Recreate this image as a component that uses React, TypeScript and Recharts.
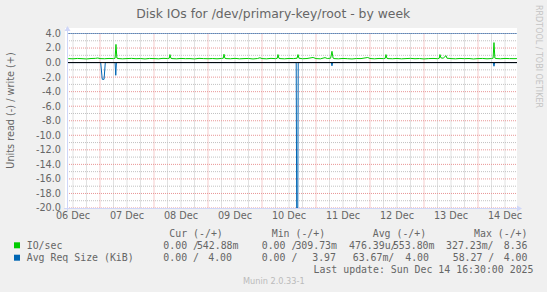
import React from 'react';
import { LineChart, Line, XAxis, YAxis, CartesianGrid, ReferenceLine } from 'recharts';

// time is in hours counted from 06 Dec 00:00
const timeDomain: [number, number] = [9.33, 209.33];
const dayLabelHours = [12, 36, 60, 84, 108, 132, 156, 180, 204];
const dayLabels = ['06 Dec', '07 Dec', '08 Dec', '09 Dec', '10 Dec', '11 Dec', '12 Dec', '13 Dec', '14 Dec'];
const midnightHours = [24, 48, 72, 96, 120, 144, 168, 192];
const sixHourHours = [
  12, 18, 30, 36, 42, 54, 60, 66, 78, 84, 90, 102, 108, 114, 126, 132, 138, 150, 156, 162, 174, 180, 186, 198, 204,
];
const yTicks = [4, 2, 0, -2, -4, -6, -8, -10, -12, -14, -16, -18, -20];
const yMinor = [3, 1, -1, -3, -5, -7, -9, -11, -13, -15, -17, -19];

// IO/sec, write (+)
const ioWrite: [number, number][] = [
  [9.4, 0.56], [10, 0.55], [12, 0.52], [14, 0.57], [16, 0.54], [18, 0.5], [20, 0.56], [22, 0.58], [23, 0.63],
  [24, 0.55], [26, 0.53], [28, 0.57], [30, 0.55], [30.7, 0.6], [31.1, 2.5], [31.5, 0.62], [32, 0.56], [34, 0.52],
  [36, 0.55], [38, 0.58], [40, 0.53], [42, 0.56], [44, 0.5], [46, 0.57], [48, 0.55], [50, 0.52], [52, 0.58],
  [54, 0.56], [54.8, 0.6], [55.1, 1.1], [55.5, 0.6], [56, 0.55], [58, 0.52], [60, 0.57], [62, 0.54], [64, 0.55],
  [66, 0.5], [68, 0.58], [70, 0.55], [72, 0.53], [74, 0.56], [76, 0.52], [78, 0.57], [78.8, 0.6], [79.1, 1.15],
  [79.5, 0.6], [80, 0.55], [82, 0.53], [84, 0.58], [86, 0.52], [88, 0.55], [90, 0.57], [92, 0.5], [94, 0.56],
  [95.1, 0.66], [96, 0.55], [98, 0.52], [100, 0.58], [102, 0.54], [102.8, 0.6], [103.1, 1.1], [103.5, 0.6],
  [104, 0.55], [106, 0.52], [108, 0.57], [110, 0.55], [111.6, 0.6], [112, 1.1], [112.4, 0.6], [114, 0.53],
  [116, 0.56], [118.7, 0.7], [120, 0.55], [122, 0.52], [124, 0.68], [125, 0.56], [126.5, 0.6], [127.1, 1.55],
  [127.6, 0.62], [128, 0.55], [130, 0.52], [132, 0.57], [134, 0.54], [136, 0.5], [138, 0.56], [140, 0.55],
  [143, 0.7], [144, 0.56], [146, 0.52], [148, 0.57], [150, 0.55], [150.8, 0.6], [151.1, 1.1], [151.5, 0.6],
  [152, 0.55], [154, 0.53], [156, 0.57], [158, 0.52], [160, 0.55], [162, 0.58], [164, 0.53], [166, 0.56],
  [168, 0.5], [170, 0.55], [172, 0.57], [174, 0.54], [174.8, 0.6], [175.1, 1.1], [175.5, 0.65], [176.5, 0.6],
  [177.8, 0.95], [178.2, 0.6], [180, 0.55], [182, 0.52], [184, 0.57], [186, 0.54], [188, 0.56], [190, 0.5],
  [192, 0.55], [194, 0.57], [196, 0.52], [198, 0.56], [198.7, 0.6], [199.1, 2.75], [199.5, 0.62], [200, 0.56],
  [202, 0.53], [204, 0.57], [206, 0.55], [208, 0.54], [209.3, 0.55],
];

// Avg Req Size (KiB), read (-)
const reqRead: [number, number][] = [
  [9.33, 0], [24.3, 0], [25.0, -2.3], [25.8, -2.3], [26.35, 0], [30.7, 0], [31.0, -1.75], [31.3, 0],
  [111.2, 0], [111.4, -20], [111.9, -20], [112.1, 0], [126.8, 0], [127.1, -0.45], [127.4, 0],
  [198.8, 0], [199.1, -0.5], [199.4, 0], [209.33, 0],
];

// Avg Req Size (KiB), write (+)
const reqWrite: [number, number][] = [
  [9.33, 4], [60, 4], [110, 4], [160, 4], [209.33, 4],
];

const legendHeaders = ['Cur (-/+)', 'Min (-/+)', 'Avg (-/+)', 'Max (-/+)'];
const ioSecStats = [['0.00 /', '542.88m'], ['0.00 /', '309.73m'], ['476.39u/', '553.80m'], ['327.23m/', '8.36']];
const reqSizeStats = [['0.00 /', '4.00'], ['0.00 /', '3.97'], ['63.67m/', '4.00'], ['58.27 /', '4.00']];

const toRows = (pts: [number, number][]) => pts.map(([h, v]) => ({ h, v }));

const FONT = '#666666';
const AXIS = '#CFD6F8';
const sans = '"DejaVu Sans", sans-serif';
const mono = '"DejaVu Sans Mono", monospace';

const headerX = [169.3, 271.7, 372.7, 474];
const ioLeftX = [163.3, 261.7, 349, 446];
const ioRightX = [238.5, 337, 434.5, 527.5];
const reqLeftX = [163.3, 261.7, 352.7, 452.7];
const reqRightX = [232, 336, 429, 527.5];

const App: React.FC = () => {
  const monoText = { fontFamily: mono, fontSize: 9.9, fill: FONT, whiteSpace: 'pre' as const };
  return (
    <div style={{ position: 'fixed', left: 0, top: 0, width: 547, height: 292, background: '#f0f0f0', overflow: 'hidden' }}>
      <div style={{ position: 'absolute', left: 65, top: 28, width: 452, height: 180, background: '#ffffff' }} />
      <div style={{ position: 'absolute', left: 0, top: 0 }}>
        <LineChart width={547} height={292} margin={{ top: 33.5, right: 30, bottom: 54, left: 7 }}>
          <CartesianGrid
            stroke="#c2c2c2"
            strokeDasharray="1 1"
            horizontalValues={yMinor}
            verticalValues={sixHourHours}
          />
          <CartesianGrid
            stroke="#e99696"
            strokeDasharray="1 1"
            horizontalValues={yTicks}
            verticalValues={midnightHours}
          />
          <XAxis
            type="number"
            dataKey="h"
            domain={timeDomain}
            ticks={dayLabelHours}
            interval={0}
            allowDataOverflow
            tickFormatter={(h: number) => dayLabels[dayLabelHours.indexOf(h)]}
            axisLine={false}
            tickLine={false}
            tickSize={0}
            tickMargin={4}
            height={30}
            tick={{ fill: FONT, fontSize: 9.7, fontFamily: sans }}
          />
          <YAxis
            type="number"
            domain={[-20, 4]}
            ticks={yTicks}
            interval={0}
            allowDataOverflow
            tickFormatter={(v: number) => v.toFixed(1)}
            axisLine={false}
            tickLine={false}
            tickSize={0}
            tickMargin={6}
            width={60}
            tick={{ fill: FONT, fontSize: 9.7, fontFamily: sans }}
          />
          <Line data={toRows(ioWrite)} dataKey="v" type="linear" stroke="#00cc00" strokeWidth={1} dot={false} activeDot={false} isAnimationActive={false} />
          <Line data={toRows(reqRead)} dataKey="v" type="linear" stroke="#0066b3" strokeWidth={1} dot={false} activeDot={false} isAnimationActive={false} />
          <Line data={toRows(reqWrite)} dataKey="v" type="linear" stroke="#0066b3" strokeWidth={1} dot={false} activeDot={false} isAnimationActive={false} />
          <ReferenceLine y={0} stroke="#000000" strokeWidth={1} />
        </LineChart>
      </div>
      <svg width={547} height={292} style={{ position: 'absolute', left: 0, top: 0, pointerEvents: 'none' }}>
        {/* axes with arrows */}
        <line x1={67.5} y1={211} x2={67.5} y2={29} stroke={AXIS} />
        <polygon points="64.5,31 70.5,31 67.5,26" fill={AXIS} />
        <line x1={64} y1={208.5} x2={518} y2={208.5} stroke={AXIS} />
        <polygon points="517,205.5 517,211.5 522,208.5" fill={AXIS} />

        <text x={273.3} y={18.3} textAnchor="middle" fontFamily={sans} fontSize={12.4} fill={FONT}>
          Disk IOs for /dev/primary-key/root - by week
        </text>
        <text transform="translate(13.7,110.5) rotate(-90)" textAnchor="middle" fontFamily={sans} fontSize={9.7} fill={FONT}>
          Units read (-) / write (+)
        </text>
        <text transform="translate(535.5,56.5) rotate(90)" textAnchor="middle" fontFamily={sans} fontSize={8} fill="#c4c4c4">
          RRDTOOL / TOBI OETIKER
        </text>

        {legendHeaders.map((t, i) => (
          <text key={t} x={headerX[i]} y={236.8} style={monoText}>{t}</text>
        ))}
        <rect x={14} y={242.3} width={6} height={6} fill="#00cc00" />
        <text x={26.7} y={249} style={monoText}>IO/sec</text>
        {ioSecStats.map(([a, b], i) => (
          <g key={`io-${i}`}>
            <text x={ioLeftX[i]} y={249} style={monoText}>{a}</text>
            <text x={ioRightX[i]} y={249} textAnchor="end" style={monoText}>{b}</text>
          </g>
        ))}
        <rect x={14} y={254.7} width={6} height={6} fill="#0066b3" />
        <text x={26.7} y={261} style={monoText}>Avg Req Size (KiB)</text>
        {reqSizeStats.map(([a, b], i) => (
          <g key={`rq-${i}`}>
            <text x={reqLeftX[i]} y={261} style={monoText}>{a}</text>
            <text x={reqRightX[i]} y={261} textAnchor="end" style={monoText}>{b}</text>
          </g>
        ))}
        <text x={533.5} y={272.7} textAnchor="end" style={monoText}>Last update: Sun Dec 14 16:30:00 2025</text>
        <text x={273.8} y={283.7} textAnchor="middle" fontFamily={sans} fontSize={8.2} fill="#bbbbbb">
          Munin 2.0.33-1
        </text>
      </svg>
    </div>
  );
};

export default App;
